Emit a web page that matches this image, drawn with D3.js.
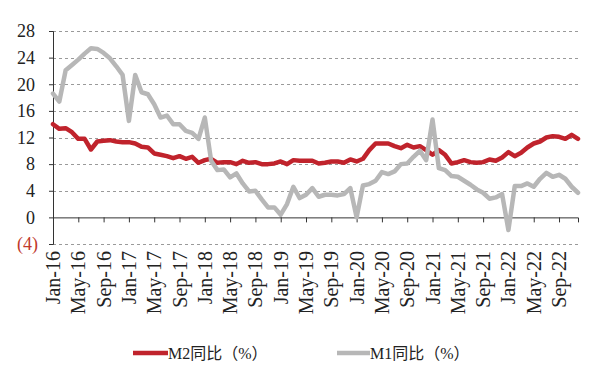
<!DOCTYPE html>
<html>
<head>
<meta charset="utf-8">
<script src="https://cdn.jsdelivr.net/npm/d3@7/dist/d3.min.js"></script>
<style>
  html, body { margin: 0; padding: 0; background: #fff; }
  svg { display: block; }
</style>
</head>
<body>
<svg id="chart" width="600" height="383"></svg>
<script>
// ---- Data (monthly, Jan-2016 .. Dec-2022) ----
const years = [2016, 2017, 2018, 2019, 2020, 2021, 2022];
const monthNames = ["Jan","Feb","Mar","Apr","May","Jun","Jul","Aug","Sep","Oct","Nov","Dec"];

const m2Values = [
  14.0, 13.3, 13.4, 12.8, 11.8, 11.8, 10.2, 11.4, 11.5, 11.6, 11.4, 11.3,
  11.3, 11.1, 10.6, 10.5, 9.6, 9.4, 9.2, 8.9, 9.2, 8.8, 9.1, 8.2,
  8.6, 8.8, 8.2, 8.3, 8.3, 8.0, 8.5, 8.2, 8.3, 8.0, 8.0, 8.1,
  8.4, 8.0, 8.6, 8.5, 8.5, 8.5, 8.1, 8.2, 8.4, 8.4, 8.2, 8.7,
  8.4, 8.8, 10.1, 11.1, 11.1, 11.1, 10.7, 10.4, 10.9, 10.5, 10.7, 10.1,
  9.4, 10.1, 9.4, 8.1, 8.3, 8.6, 8.3, 8.2, 8.3, 8.7, 8.5, 9.0,
  9.8, 9.2, 9.7, 10.5, 11.1, 11.4, 12.0, 12.2, 12.1, 11.8, 12.4, 11.8
];

const m1Values = [
  18.6, 17.4, 22.1, 22.9, 23.7, 24.6, 25.4, 25.3, 24.7, 23.9, 22.7, 21.4,
  14.5, 21.4, 18.8, 18.5, 17.0, 15.0, 15.3, 14.0, 14.0, 13.0, 12.7, 11.8,
  15.0, 8.5, 7.1, 7.2, 6.0, 6.6, 5.1, 3.9, 4.0, 2.7, 1.5, 1.5,
  0.4, 2.0, 4.6, 2.9, 3.4, 4.4, 3.1, 3.4, 3.4, 3.3, 3.5, 4.4,
  0.0, 4.8, 5.0, 5.5, 6.8, 6.5, 6.9, 8.0, 8.1, 9.1, 10.0, 8.6,
  14.7, 7.4, 7.1, 6.2, 6.1, 5.5, 4.9, 4.2, 3.7, 2.8, 3.0, 3.5,
  -1.9, 4.7, 4.7, 5.1, 4.6, 5.8, 6.7, 6.1, 6.4, 5.8, 4.6, 3.7
];

const yTicks = [-4, 0, 4, 8, 12, 16, 20, 24, 28];
const seriesNames = ["M2同比（%）", "M1同比（%）"];

// month labels
const months = [];
years.forEach(y => monthNames.forEach(m => months.push(m + "-" + String(y).slice(2))));
const xTickIdx = d3.range(0, months.length, 4);

// ---- Layout ----
const svg = d3.select("#chart");
const x = d3.scaleLinear().domain([0, months.length - 1]).range([53, 578]);
const y = d3.scaleLinear().domain([-4, 28]).range([244, 31]);

const red = "#c0232c";
const gray = "#b7b7b7";

// gridlines (dashed)
svg.append("g").selectAll("line")
  .data(yTicks.filter(t => t !== 0))
  .join("line")
  .attr("x1", x(0)).attr("x2", x(months.length - 1))
  .attr("y1", d => Math.round(y(d)) + 0.5).attr("y2", d => Math.round(y(d)) + 0.5)
  .attr("stroke", "#9a9a9a").attr("stroke-width", 1)
  .attr("stroke-dasharray", "3,3");

// y axis
const yAxis = d3.axisLeft(y).tickValues(yTicks).tickSize(4).tickFormat("");
const yg = svg.append("g").attr("transform", `translate(${x(0)},0)`).call(yAxis);
yg.select(".domain").attr("stroke", "#333");
yg.selectAll(".tick line").attr("stroke", "#333");

// y labels
svg.append("g").selectAll("text")
  .data(yTicks)
  .join("text")
  .attr("x", d => d < 0 ? 38 : 35)
  .attr("y", d => y(d))
  .attr("dy", "0.35em")
  .attr("text-anchor", "end")
  .attr("font-family", "'Liberation Serif', 'Times New Roman', serif")
  .attr("font-size", 18)
  .attr("fill", d => d < 0 ? "#c0392b" : "#222")
  .text(d => d < 0 ? "(" + Math.abs(d) + ")" : d);

// x axis at zero
const xAxis = d3.axisBottom(x).tickValues(xTickIdx).tickSize(5).tickFormat("");
const xg = svg.append("g").attr("transform", `translate(0,${y(0)})`).call(xAxis);
xg.select(".domain").attr("stroke", "#333");
xg.selectAll(".tick line").attr("stroke", "#333");

// x labels (rotated) below chart
svg.append("g").selectAll("text")
  .data(xTickIdx)
  .join("text")
  .attr("transform", d => `translate(${x(d)},251) rotate(-90)`)
  .attr("dy", "0.35em")
  .attr("text-anchor", "end")
  .attr("font-family", "'Liberation Serif', 'Times New Roman', serif")
  .attr("font-size", 20)
  .attr("fill", "#222")
  .text(d => months[d]);

// lines
const line = d3.line().x((d, i) => x(i)).y(d => y(d)).curve(d3.curveLinear);
svg.append("path").datum(m2Values)
  .attr("d", line).attr("fill", "none")
  .attr("stroke", red).attr("stroke-width", 4.5)
  .attr("stroke-linejoin", "round").attr("stroke-linecap", "round");
svg.append("path").datum(m1Values)
  .attr("d", line).attr("fill", "none")
  .attr("stroke", gray).attr("stroke-width", 4.5)
  .attr("stroke-linejoin", "round").attr("stroke-linecap", "round");

// legend
const legend = [
  { name: seriesNames[0], color: red, x1: 133, x2: 168 },
  { name: seriesNames[1], color: gray, x1: 337, x2: 370 }
];
const lg = svg.append("g");
legend.forEach(l => {
  lg.append("line").attr("x1", l.x1).attr("x2", l.x2)
    .attr("y1", 353).attr("y2", 353)
    .attr("stroke", l.color).attr("stroke-width", 4.5);
  lg.append("text").attr("x", l.x2).attr("y", 353).attr("dy", "0.35em")
    .attr("font-family", "'Liberation Serif', 'Noto Sans CJK SC', serif")
    .attr("font-size", 16).attr("fill", "#222")
    .text(l.name);
});
</script>
</body>
</html>
